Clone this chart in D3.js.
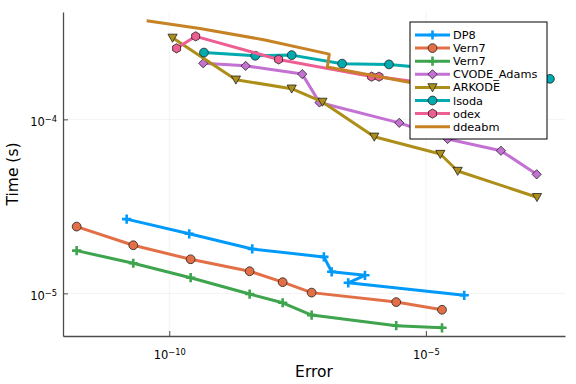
<!DOCTYPE html>
<html>
<head>
<meta charset="utf-8">
<script src="https://cdn.jsdelivr.net/npm/d3@7"></script>
<style>
  body { margin: 0; background: #fff; }
  text { font-family: "DejaVu Sans", sans-serif; }
</style>
</head>
<body>
<div id="chart"></div>
<script>
// work-precision data (error, time in s)
var errDP8  = [1.48e-11, 2.45e-10, 4.14e-9, 1.03e-7, 1.46e-7, 6.5e-7, 3.07e-7, 5.58e-5];
var timeDP8 = [2.67e-5, 2.20e-5, 1.80e-5, 1.62e-5, 1.33e-5, 1.27e-5, 1.15e-5, 9.75e-6];

var errVern7  = [1.57e-12, 1.99e-11, 2.61e-10, 3.68e-9, 1.62e-8, 5.94e-8, 2.64e-6, 2.06e-5];
var timeVern7 = [2.42e-5, 1.89e-5, 1.57e-5, 1.34e-5, 1.16e-5, 1.01e-5, 8.91e-6, 8.05e-6];

var errVern7b  = [1.57e-12, 1.99e-11, 2.61e-10, 3.68e-9, 1.62e-8, 5.94e-8, 2.64e-6, 2.06e-5];
var timeVern7b = [1.76e-5, 1.49e-5, 1.23e-5, 9.91e-6, 8.83e-6, 7.50e-6, 6.52e-6, 6.34e-6];

var errCVODE  = [4.59e-10, 3.08e-9, 3.90e-8, 8.44e-8, 3.03e-6, 2.65e-5, 2.90e-4, 1.44e-3];
var timeCVODE = [2.10e-4, 2.03e-4, 1.82e-4, 1.25e-4, 9.55e-5, 7.71e-5, 6.60e-5, 4.83e-5];

var errARKODE  = [1.16e-10, 1.99e-9, 2.43e-8, 9.66e-8, 9.86e-7, 1.91e-5, 4.16e-5, 1.46e-3];
var timeARKODE = [2.94e-4, 1.69e-4, 1.50e-4, 1.26e-4, 7.94e-5, 6.32e-5, 5.05e-5, 3.57e-5];

var errLsoda  = [4.74e-10, 4.73e-9, 2.43e-8, 2.33e-7, 1.91e-6, 2.61e-3];
var timeLsoda = [2.42e-4, 2.32e-4, 2.34e-4, 2.09e-4, 2.07e-4, 1.71e-4];

var errOdex  = [1.39e-10, 3.27e-10, 1.35e-8, 8.77e-7, 1.22e-6, 1.88e-5];
var timeOdex = [2.56e-4, 3.00e-4, 2.21e-4, 1.76e-4, 1.76e-4, 1.57e-4];

var errDdeabm  = [3.63e-11, 3.96e-10, 7.31e-9, 1.31e-7, 1.20e-7, 4.60e-5];
var timeDdeabm = [3.69e-4, 3.33e-4, 2.86e-4, 2.37e-4, 2.00e-4, 1.44e-4];

var names   = ['DP8', 'Vern7', 'Vern7', 'CVODE_Adams', 'ARKODE', 'lsoda', 'odex', 'ddeabm'];
var colors  = ['#009AFA', '#E36F47', '#3EA44E', '#C371D2', '#AC8E18', '#00AAAE', '#ED5E93', '#C68225'];
var markers = ['cross', 'circle', 'cross', 'diamond', 'dtri', 'circle', 'hexagon', 'none'];

var xTicks = [1e-10, 1e-5];
var yTicks = [1e-4, 1e-5];

var series = [
    [errDP8, timeDP8], [errVern7, timeVern7], [errVern7b, timeVern7b], [errCVODE, timeCVODE],
    [errARKODE, timeARKODE], [errLsoda, timeLsoda], [errOdex, timeOdex], [errDdeabm, timeDdeabm]
].map(function(s, i) {
    return {name: names[i], color: colors[i], marker: markers[i],
            pts: s[0].map(function(e, j) { return [e, s[1][j]]; })};
});

var W = 576, H = 384;
var margin = {top: 12, right: 11, bottom: 48, left: 63};

var svg = d3.select('#chart').append('svg')
    .attr('width', W).attr('height', H);

var x = d3.scaleLog().domain([Math.pow(10, -12.07), Math.pow(10, -2.29)])
    .range([margin.left, W - margin.right]);
var y = d3.scaleLog().domain([Math.pow(10, -5.245), Math.pow(10, -3.383)])
    .range([H - margin.bottom, margin.top]);

// grid
svg.append('g').selectAll('line').data(xTicks).enter().append('line')
    .attr('x1', function(d) { return x(d); }).attr('x2', function(d) { return x(d); })
    .attr('y1', margin.top).attr('y2', H - margin.bottom)
    .attr('stroke', '#000').attr('stroke-opacity', 0.1).attr('stroke-width', 0.5);
svg.append('g').selectAll('line').data(yTicks).enter().append('line')
    .attr('y1', function(d) { return y(d); }).attr('y2', function(d) { return y(d); })
    .attr('x1', margin.left).attr('x2', W - margin.right)
    .attr('stroke', '#000').attr('stroke-opacity', 0.1).attr('stroke-width', 0.5);

function expLabel(sel, d) {
    var e = Math.round(Math.log10(d));
    sel.text(null);
    sel.append('tspan').text('10');
    sel.append('tspan').attr('dy', '-0.5em').attr('font-size', '8.3px').text('\u2212' + Math.abs(e));
}

var xAxis = svg.append('g')
    .attr('transform', 'translate(0,' + (H - margin.bottom) + ')')
    .call(d3.axisBottom(x).tickValues(xTicks).tickSizeInner(-5).tickSizeOuter(0).tickPadding(13));
xAxis.select('.domain').attr('stroke', '#4d4d4d').attr('stroke-width', 1.3);
xAxis.selectAll('.tick line').attr('stroke', '#4d4d4d').attr('stroke-width', 1);
xAxis.selectAll('.tick text').attr('font-size', '11.5px').attr('fill', '#000')
    .attr('dy', '0.9em')
    .each(function(d) { expLabel(d3.select(this), d); });

var yAxis = svg.append('g')
    .attr('transform', 'translate(' + margin.left + ',0)')
    .call(d3.axisLeft(y).tickValues(yTicks).tickSizeInner(-5).tickSizeOuter(0).tickPadding(6));
yAxis.select('.domain').attr('stroke', '#4d4d4d').attr('stroke-width', 1.3);
yAxis.selectAll('.tick line').attr('stroke', '#4d4d4d').attr('stroke-width', 1);
yAxis.selectAll('.tick text').attr('font-size', '11.5px').attr('fill', '#000')
    .attr('dy', '0.55em')
    .each(function(d) { expLabel(d3.select(this), d); });

// axis titles
svg.append('text').attr('x', (margin.left + W - margin.right) / 2).attr('y', 377)
    .attr('text-anchor', 'middle').attr('font-size', '15.5px').text('Error');
svg.append('text').attr('transform', 'translate(18,' + ((margin.top + H - margin.bottom) / 2) + ') rotate(-90)')
    .attr('text-anchor', 'middle').attr('font-size', '15.5px').text('Time (s)');

// marker shapes
function markerPath(type) {
    var r = 4.6;
    if (type === 'cross') return 'M' + (-r) + ',0H' + r + 'M0,' + (-r) + 'V' + r;
    if (type === 'diamond') return 'M0,' + (-r) + 'L' + r + ',0L0,' + r + 'L' + (-r) + ',0Z';
    if (type === 'dtri') return 'M' + (-r) + ',' + (-r * 0.8) + 'L' + r + ',' + (-r * 0.8) + 'L0,' + (r * 0.95) + 'Z';
    if (type === 'hexagon') {
        var p = d3.range(6).map(function(k) {
            var a = Math.PI / 3 * k - Math.PI / 2;
            return [r * Math.cos(a), r * Math.sin(a)];
        });
        return 'M' + p.join('L') + 'Z';
    }
    return null;
}

function drawMarker(g, type, color, cx, cy) {
    if (type === 'none') return;
    if (type === 'circle') {
        g.append('circle').attr('cx', cx).attr('cy', cy).attr('r', 4.4)
            .attr('fill', color).attr('stroke', '#222').attr('stroke-width', 0.8);
    } else if (type === 'cross') {
        g.append('path').attr('transform', 'translate(' + cx + ',' + cy + ')')
            .attr('d', markerPath(type)).attr('stroke', color).attr('stroke-width', 2.6).attr('fill', 'none');
    } else {
        g.append('path').attr('transform', 'translate(' + cx + ',' + cy + ')')
            .attr('d', markerPath(type)).attr('fill', color).attr('stroke', '#222').attr('stroke-width', 0.8);
    }
}

var line = d3.line().x(function(d) { return x(d[0]); }).y(function(d) { return y(d[1]); });

var plot = svg.append('g');
series.forEach(function(s) {
    var g = plot.append('g');
    g.append('path').attr('d', line(s.pts)).attr('fill', 'none')
        .attr('stroke', s.color).attr('stroke-width', 3).attr('stroke-linejoin', 'round');
    s.pts.forEach(function(p) { drawMarker(g, s.marker, s.color, x(p[0]), y(p[1])); });
});

// legend
var lg = svg.append('g').attr('transform', 'translate(410,22)');
lg.append('rect').attr('width', 137).attr('height', 117)
    .attr('fill', '#fff').attr('stroke', '#000').attr('stroke-width', 1);
series.forEach(function(s, i) {
    var ly = 13 + i * 13.1;
    lg.append('line').attr('x1', 5).attr('x2', 40).attr('y1', ly).attr('y2', ly)
        .attr('stroke', s.color).attr('stroke-width', 3);
    drawMarker(lg, s.marker, s.color, 22.5, ly);
    lg.append('text').attr('x', 43).attr('y', ly).attr('dy', '0.36em')
        .attr('font-size', '11.3px').text(s.name);
});
</script>
</body>
</html>
